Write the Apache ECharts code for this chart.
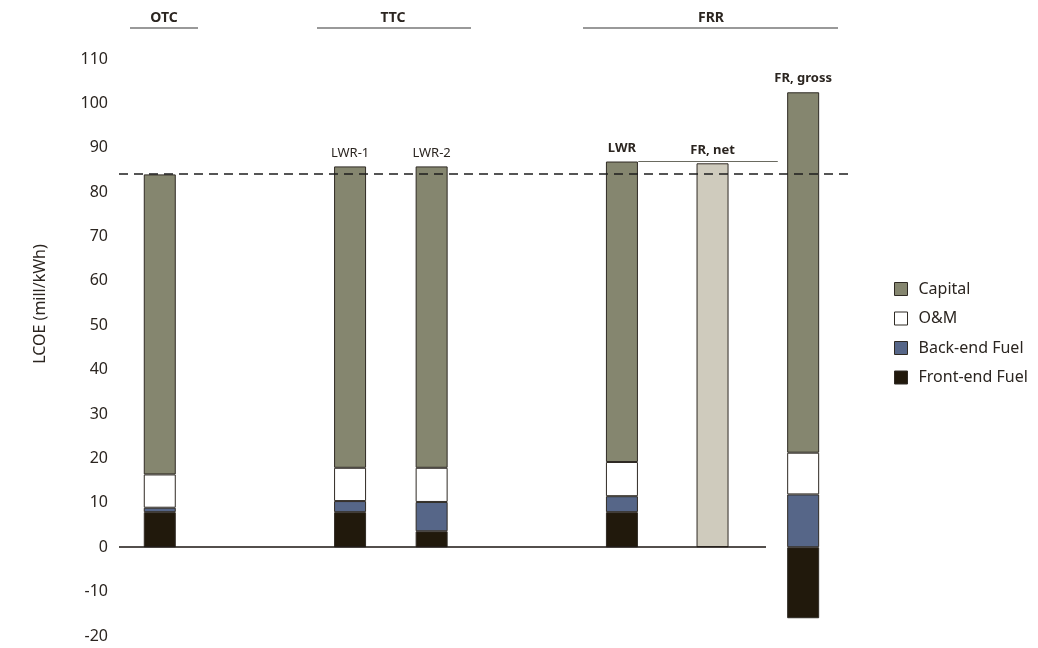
<!DOCTYPE html>
<html>
<head>
<meta charset="utf-8">
<script src="https://cdn.jsdelivr.net/npm/echarts@6/dist/echarts.min.js"></script>
<style>
html,body{margin:0;padding:0;background:#fff;}
#chart{width:1038px;height:648px;}
</style>
</head>
<body>
<div id="chart"></div>
<script>
// ---- data ----
const barNames = ['', 'LWR-1', 'LWR-2', 'LWR', 'FR, net', 'FR, gross'];
const frontEndFuel = [7.9, 7.9, 3.6, 7.9, null, -16.0];
const backEndFuel  = [1.0, 2.5, 6.6, 3.6, null, 11.9];
const oandm        = [7.5, 7.5, 7.7, 7.7, null, 9.4];
const capital      = [67.6, 67.9, 67.9, 67.7, null, 81.2];
const frNetTotal   = [null, null, null, null, 86.5, null];
const groupNames = ['OTC', 'TTC', 'FRR'];
const yTicks = [-20, -10, 0, 10, 20, 30, 40, 50, 60, 70, 80, 90, 100, 110];
const otcReference = 84.2;
const lwrTopLevel = 86.9;

// ---- layout (not data) ----
const slotCount = 81;
const slotIndex = [4, 25, 34, 55, 65, 75];
const textColor = '#2b2520';
const borderColor = '#2f2a24';
const labelFont = "'Liberation Sans Narrow','Noto Sans',sans-serif";

const slots = Array.from({ length: slotCount }, (_, i) => String(i));
function spread(vals, mapper) {
  const arr = new Array(slotCount).fill(null);
  vals.forEach((v, i) => { arr[slotIndex[i]] = mapper ? mapper(v, i) : v; });
  return arr;
}

const chart = echarts.init(document.getElementById('chart'));

const capitalData = spread(capital, (v, i) => ({
  value: v,
  label: { show: !!barNames[i], formatter: barNames[i], fontWeight: (i >= 3) ? 'bold' : 'normal' }
}));
const frNetData = spread(frNetTotal, (v, i) => (v == null ? null : {
  value: v,
  label: { show: true, formatter: barNames[i], fontWeight: 'bold' }
}));

const commonBar = {
  type: 'bar',
  stack: 'lcoe',
  barWidth: 32,
  emphasis: { disabled: true }
};
const barLabel = {
  position: 'top', distance: 7, color: textColor, fontSize: 13, fontFamily: labelFont
};

const option = {
  animation: false,
  backgroundColor: '#fff',
  grid: { left: 119, right: 185, top: 59, bottom: 12, containLabel: false },
  xAxis: [
    {
      type: 'category', data: slots,
      axisLine: { show: false }, axisTick: { show: false },
      axisLabel: { show: false }, splitLine: { show: false }
    },
    {
      type: 'value', min: 0, max: slotCount, show: false,
      splitLine: { show: false }
    }
  ],
  yAxis: {
    type: 'value', min: yTicks[0], max: yTicks[yTicks.length - 1], interval: 10,
    axisLine: { show: false }, axisTick: { show: false }, splitLine: { show: false },
    axisLabel: { margin: 11, color: textColor, fontSize: 16, fontFamily: "'Noto Sans',sans-serif" }
  },
  legend: {
    orient: 'vertical', left: 889, top: 276,
    itemWidth: 13, itemHeight: 13, itemGap: 13.5,
    icon: 'rect',
    textStyle: { color: textColor, fontSize: 16, fontFamily: "'Noto Sans',sans-serif", padding: [0, 0, 0, 6] },
    data: ['Capital', 'O&M', 'Back-end Fuel', 'Front-end Fuel'],
    itemStyle: { borderColor: borderColor, borderWidth: 1 }
  },
  series: [
    Object.assign({}, commonBar, {
      name: 'Front-end Fuel', data: spread(frontEndFuel),
      itemStyle: { color: '#21190c', borderColor: borderColor, borderWidth: 1 }
    }),
    Object.assign({}, commonBar, {
      name: 'Back-end Fuel', data: spread(backEndFuel),
      itemStyle: { color: '#566688', borderColor: borderColor, borderWidth: 1 }
    }),
    Object.assign({}, commonBar, {
      name: 'O&M', data: spread(oandm),
      itemStyle: { color: '#ffffff', borderColor: borderColor, borderWidth: 1 }
    }),
    Object.assign({}, commonBar, {
      name: 'Capital', data: capitalData,
      itemStyle: { color: '#85866f', borderColor: borderColor, borderWidth: 1 },
      label: barLabel
    }),
    Object.assign({}, commonBar, {
      name: 'FR, net', data: frNetData,
      itemStyle: { color: '#cfcbbd', borderColor: borderColor, borderWidth: 1 },
      label: barLabel
    }),
    {
      name: 'refs', type: 'line', xAxisIndex: 1, data: [],
      silent: true, z: 5,
      markLine: {
        silent: true, symbol: 'none', label: { show: false }, animation: false,
        data: [
          { yAxis: otcReference, lineStyle: { color: '#1e1e1e', width: 1.5, type: [9, 6] } },
          [{ coord: [0, 0], lineStyle: { color: '#1a1510', width: 1.5, type: 'solid' } }, { coord: [71.4, 0] }],
          [{ coord: [57.3, lwrTopLevel], lineStyle: { color: '#6a6a60', width: 1.2, type: 'solid' } }, { coord: [72.7, lwrTopLevel] }]
        ]
      }
    }
  ],
  graphic: [
    {
      type: 'text', x: 40, y: 304, rotation: Math.PI / 2,
      style: {
        text: 'LCOE (mill/kWh)', fill: textColor, fontSize: 16,
        fontFamily: "'Noto Sans',sans-serif", align: 'center', verticalAlign: 'middle'
      }
    },
    { type: 'text', x: 164, y: 18, style: { text: groupNames[0], fill: textColor, fontSize: 14, fontWeight: 'bold', fontFamily: labelFont, align: 'center', verticalAlign: 'middle' } },
    { type: 'line', shape: { x1: 130, y1: 28, x2: 198, y2: 28 }, style: { stroke: '#777', lineWidth: 1.5 } },
    { type: 'text', x: 393, y: 18, style: { text: groupNames[1], fill: textColor, fontSize: 14, fontWeight: 'bold', fontFamily: labelFont, align: 'center', verticalAlign: 'middle' } },
    { type: 'line', shape: { x1: 317, y1: 28, x2: 471, y2: 28 }, style: { stroke: '#777', lineWidth: 1.5 } },
    { type: 'text', x: 711, y: 18, style: { text: groupNames[2], fill: textColor, fontSize: 14, fontWeight: 'bold', fontFamily: labelFont, align: 'center', verticalAlign: 'middle' } },
    { type: 'line', shape: { x1: 583, y1: 28, x2: 838, y2: 28 }, style: { stroke: '#777', lineWidth: 1.5 } }
  ]
};
chart.setOption(option);
</script>
</body>
</html>
